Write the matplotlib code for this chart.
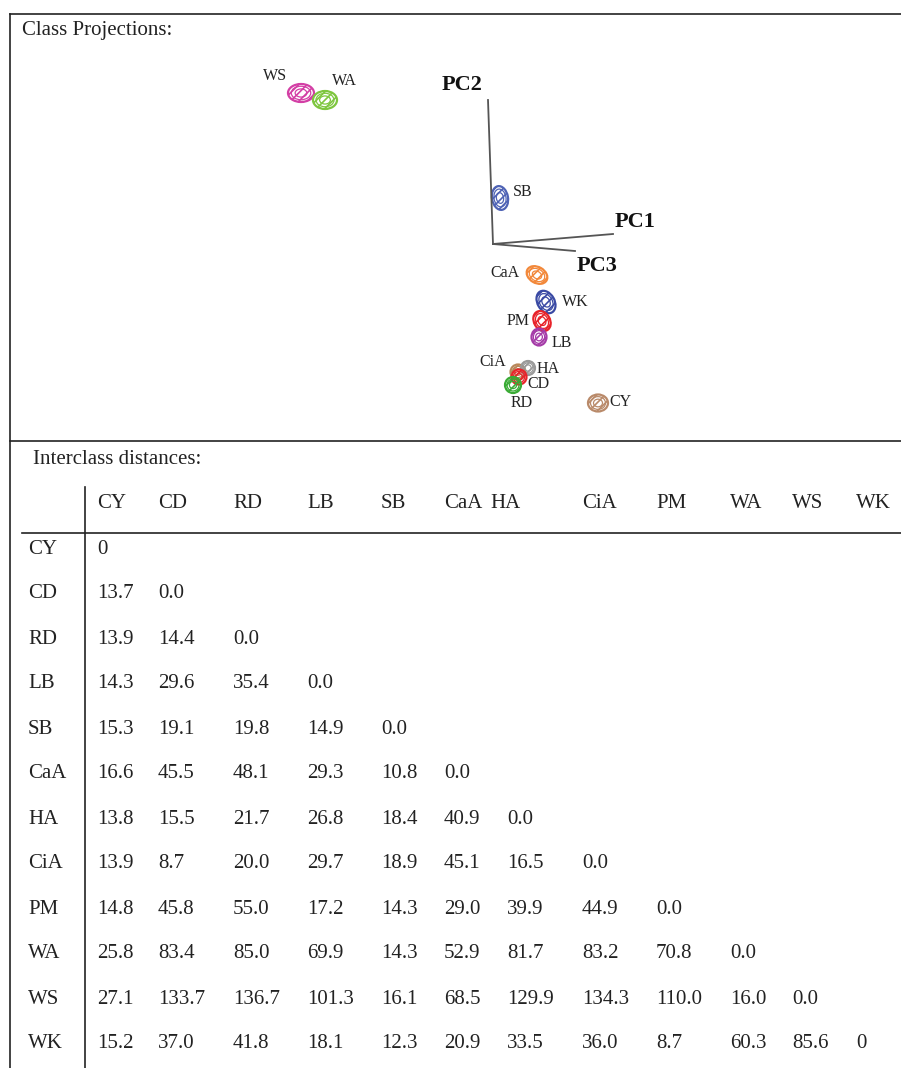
import matplotlib.pyplot as plt
from matplotlib.patches import Ellipse

# class projection positions (page pixel coordinates)
classes = ['WS', 'WA', 'SB', 'CaA', 'WK', 'PM', 'LB', 'CiA', 'HA', 'CD', 'RD', 'CY']
cx = [301, 325, 500, 537, 546, 542, 539, 518, 528, 519, 513, 598]
cy = [93, 100, 198, 275, 302, 321, 337, 372, 368, 377, 385, 403]
ew = [26, 24, 16, 22, 17, 16, 15, 15, 14, 15, 16, 20]
eh = [18, 18, 24, 16, 24, 21, 17, 15, 14, 15, 16, 17]
eang = [0, 0, -10, 30, -30, -30, 0, 0, 0, 0, 0, 0]
ecol = ['#d33fa5', '#7ec63f', '#4f63b5', '#f2883a', '#3a4aa4', '#e8232a',
        '#a53ca8', '#b8875a', '#9a9a9a', '#e8232a', '#3aab35', '#b98a6a']
lab_x = [275, 344, 523, 505, 575, 518, 562, 493, 548, 538, 522, 620]
lab_y = [76, 81, 192, 273, 302, 321, 343, 362, 369, 384, 403, 402]

# PC axes
pc_names = ['PC2', 'PC1', 'PC3']
pc_tip_x = [488, 613, 575]
pc_tip_y = [100, 234, 251]
pc_lab_x = [462, 635, 597]
pc_lab_y = [85, 222, 266]
origin = (493, 244)

# interclass distances (lower triangle)
names = ['CY', 'CD', 'RD', 'LB', 'SB', 'CaA', 'HA', 'CiA', 'PM', 'WA', 'WS', 'WK']
dist = [
    ['0'],
    ['13.7', '0.0'],
    ['13.9', '14.4', '0.0'],
    ['14.3', '29.6', '35.4', '0.0'],
    ['15.3', '19.1', '19.8', '14.9', '0.0'],
    ['16.6', '45.5', '48.1', '29.3', '10.8', '0.0'],
    ['13.8', '15.5', '21.7', '26.8', '18.4', '40.9', '0.0'],
    ['13.9', '8.7', '20.0', '29.7', '18.9', '45.1', '16.5', '0.0'],
    ['14.8', '45.8', '55.0', '17.2', '14.3', '29.0', '39.9', '44.9', '0.0'],
    ['25.8', '83.4', '85.0', '69.9', '14.3', '52.9', '81.7', '83.2', '70.8', '0.0'],
    ['27.1', '133.7', '136.7', '101.3', '16.1', '68.5', '129.9', '134.3', '110.0', '16.0', '0.0'],
    ['15.2', '37.0', '41.8', '18.1', '12.3', '20.9', '33.5', '36.0', '8.7', '60.3', '85.6', '0'],
]

# layout
head_x = [97, 158, 233, 307, 381, 444, 490, 582, 656, 730, 792, 856]
cell_x = [97, 158, 233, 307, 381, 444, 507, 582, 656, 730, 792, 856]
head_y = 503
row_y0 = 549
row_dy = 45.0

plt.rcParams['font.family'] = ['Liberation Serif', 'DejaVu Serif']
plt.rcParams['hatch.linewidth'] = 1.2

fig = plt.figure(figsize=(9.01, 10.68), dpi=100)
ax = fig.add_axes([0, 0, 1, 1])
ax.set_xlim(0, 901)
ax.set_ylim(1068, 0)
ax.axis('off')

lc = '#222222'
tc = '#222222'
fs = 15
# frame lines
ax.plot([10, 901], [14, 14], color=lc, lw=1.2)
ax.plot([10, 10], [14, 1068], color=lc, lw=1.2)
ax.plot([10, 901], [441, 441], color=lc, lw=1.2)
ax.plot([85, 85], [487, 1068], color=lc, lw=1.2)
ax.plot([22, 901], [533, 533], color=lc, lw=1.2)

ax.text(22, 30, 'Class Projections:', fontsize=fs, va='center', ha='left', color=tc)
ax.text(33, 460, 'Interclass distances:', fontsize=fs, va='center', ha='left', color=tc)

# PC axes
for name, tx, ty, lx, ly in zip(pc_names, pc_tip_x, pc_tip_y, pc_lab_x, pc_lab_y):
    ax.plot([origin[0], tx], [origin[1], ty], color='#555555', lw=1.3)
    ax.text(lx, ly, name, fontsize=16, fontweight='bold', ha='center', va='center', color='#111111')

# class ellipses
for i, c in enumerate(classes):
    ax.add_patch(Ellipse((cx[i], cy[i]), ew[i], eh[i], angle=eang[i], facecolor='none',
                         edgecolor=ecol[i], lw=1.6, hatch='////'))
    ax.add_patch(Ellipse((cx[i], cy[i]), ew[i] * 0.75, eh[i] * 0.75, angle=eang[i],
                         facecolor='none', edgecolor=ecol[i], lw=0.9))
    ax.add_patch(Ellipse((cx[i], cy[i]), ew[i] * 0.45, eh[i] * 0.45, angle=eang[i],
                         facecolor='none', edgecolor=ecol[i], lw=0.9))
    ax.text(lab_x[i], lab_y[i], c, fontsize=11.5, ha='center', va='center', color=tc)

# table
for j, h in enumerate(names):
    ax.text(head_x[j], head_y, h, fontsize=fs, ha='left', va='center', color=tc)
for i, row in enumerate(dist):
    y = row_y0 + i * row_dy
    ax.text(28, y, names[i], fontsize=fs, ha='left', va='center', color=tc)
    for j, v in enumerate(row):
        ax.text(cell_x[j], y, v, fontsize=fs, ha='left', va='center', color=tc)

fig.savefig('out.png', dpi=100)
